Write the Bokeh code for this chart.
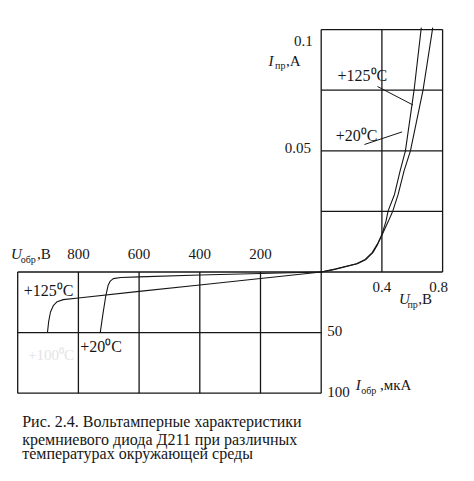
import numpy as np
from bokeh.plotting import figure
from bokeh.models import Range1d
from bokeh.core.properties import value
from bokeh.embed import file_html
from bokeh.resources import INLINE

# ---------------- data ----------------
# forward branch (U_пр in V, I_пр in A)
fwd_125_v = [0.0, 0.094, 0.232, 0.290, 0.336, 0.369, 0.401, 0.427, 0.441, 0.483, 0.520, 0.555, 0.612, 0.658, 0.660]
fwd_125_i = [0.0, 0.0012, 0.0034, 0.0052, 0.0080, 0.0114, 0.0156, 0.0210, 0.0252, 0.0320, 0.0417, 0.0500, 0.0750, 0.1000, 0.1008]
fwd_20_v = [0.0, 0.094, 0.238, 0.295, 0.340, 0.372, 0.403, 0.443, 0.472, 0.507, 0.546, 0.588, 0.671, 0.733, 0.735]
fwd_20_i = [0.0, 0.0012, 0.0034, 0.0052, 0.0080, 0.0114, 0.0156, 0.0210, 0.0252, 0.0320, 0.0417, 0.0500, 0.0750, 0.1000, 0.1008]
# reverse branch (U_обр in V, I_обр in µA)
rev_125_u = [0, 200, 400, 600, 800, 850, 870, 882, 892, 898, 902]
rev_125_i = [0, 5.3, 10.7, 16.0, 21.4, 22.8, 24.5, 27.5, 33.0, 41.0, 50.0]
rev_20_u = [0, 200, 400, 600, 660, 685, 695, 702, 710, 720, 728]
rev_20_i = [0, 1.2, 2.5, 4.0, 4.5, 5.5, 7.5, 11.0, 20.0, 36.0, 50.0]

# grid / ticks
fwd_v_grid = [0.0, 0.4, 0.8]
fwd_i_grid = [0.0, 0.025, 0.05, 0.075, 0.1]
rev_u_grid = [0, 200, 400, 600, 800, 1000]
rev_i_grid = [0, 50, 100]
fwd_v_ticks = [0.4, 0.8]
fwd_v_labels = ["0.4", "0.8"]
fwd_i_ticks = [0.1, 0.05]
fwd_i_labels = ["0.1", "0.05"]
rev_u_ticks = [800, 600, 400, 200]
rev_u_labels = ["800", "600", "400", "200"]
rev_i_ticks = [50, 100]
rev_i_labels = ["50", "100"]

caption = ["Рис. 2.4. Вольтамперные характеристики",
           "кремниевого диода Д211 при различных",
           "температурах окружающей среды"]

# scale of one grid cell for each quadrant
FV, FI, RU, RI = 0.4, 0.025, 200.0, 50.0
def fx(v): return np.asarray(v, dtype=float) / FV
def fy(i): return np.asarray(i, dtype=float) / FI
def rx(u): return -np.asarray(u, dtype=float) / RU
def ry(i): return -np.asarray(i, dtype=float) / RI

FONT = value("'Liberation Serif', 'Times New Roman', serif")
INK = "#161616"

W, H = 458, 465
PX, PY = 60.7, 60.6       # pixels per grid cell
OX, OY = 320.7, 271.5     # origin position in the page
p = figure(width=W, height=H, output_backend="svg", toolbar_location=None,
           x_range=Range1d(-OX / PX, (W - OX) / PX),
           y_range=Range1d((OY - H) / PY, OY / PY),
           x_axis_location=None, y_axis_location=None, min_border=0)
p.grid.visible = False
p.outline_line_color = None

# grid lines
x0s, y0s, x1s, y1s = [], [], [], []
for v in fwd_v_grid:
    x0s.append(fx(v)); y0s.append(fy(0)); x1s.append(fx(v)); y1s.append(fy(max(fwd_i_grid)))
for i in fwd_i_grid:
    x0s.append(fx(0)); y0s.append(fy(i)); x1s.append(fx(max(fwd_v_grid))); y1s.append(fy(i))
for u in rev_u_grid:
    x0s.append(rx(u)); y0s.append(ry(0)); x1s.append(rx(u)); y1s.append(ry(max(rev_i_grid)))
for i in rev_i_grid:
    x0s.append(rx(max(rev_u_grid))); y0s.append(ry(i)); x1s.append(rx(0)); y1s.append(ry(i))
p.segment(x0=x0s, y0=y0s, x1=x1s, y1=y1s, line_color=INK, line_width=1.3)

# curves
p.line(fx(fwd_125_v), fy(fwd_125_i), line_color=INK, line_width=1.1)
p.line(fx(fwd_20_v), fy(fwd_20_i), line_color=INK, line_width=1.1)
p.line(rx(rev_125_u), ry(rev_125_i), line_color=INK, line_width=1.1)
p.line(rx(rev_20_u), ry(rev_20_i), line_color=INK, line_width=1.1)

# leader lines for forward labels
p.segment(x0=[0.927, 0.713], y0=[3.061, 2.104], x1=[fx(0.605), fx(0.533)], y1=[fy(0.0689), fy(0.0578)],
          line_color=INK, line_width=1.0)

def txt(x, y, t, size="15px", align="left", style="normal", color=INK, xo=0):
    p.text(x=x, y=y, text=t, text_font=FONT, text_font_size=size, text_align=align,
           text_baseline="middle", text_font_style=style, text_color=color, x_offset=xo)

# tick labels
txt([-0.14], [fy(fwd_i_ticks[0]) - 0.18], [fwd_i_labels[0]], align="right")
txt([-0.17], [fy(fwd_i_ticks[1]) + 0.04], [fwd_i_labels[1]], align="right")
txt([fx(fwd_v_ticks[0])], [-0.24], [fwd_v_labels[0]], align="center")
txt([fx(fwd_v_ticks[1])], [-0.24], [fwd_v_labels[1]], align="center", xo=-4)
txt(list(rx(rev_u_ticks)), [0.29] * 4, rev_u_labels, align="center")
txt([0.10] * 2, [ry(t) + 0.02 for t in rev_i_ticks], rev_i_labels, align="left")

# axis titles
txt([-0.87], [3.49], ["I"], style="italic")
txt([-0.76], [3.40], ["пр"], size="10px")
txt([-0.58], [3.49], [",A"])
txt([-5.11], [0.29], ["U"], style="italic")
txt([-4.95], [0.21], ["обр"], size="10px")
txt([-4.68], [0.29], [",B"])
txt([1.28], [-0.45], ["U"], style="italic")
txt([1.42], [-0.53], ["пр"], size="10px")
txt([1.60], [-0.45], [",B"])
txt([0.57], [-1.86], ["I"], style="italic")
txt([0.66], [-1.95], ["обр"], size="10px")
txt([0.97], [-1.86], [",мкА"])

# curve labels
txt([0.27], [3.24], ["+125⁰C"], size="16px")
txt([0.24], [2.25], ["+20⁰C"], size="16px")
txt([-4.90], [-0.31], ["+125⁰C"], size="16px")
txt([-3.97], [-1.23], ["+20⁰C"], size="16px")
txt([-4.83], [-1.37], ["+100⁰C"], size="15px", color="#e4e4e4")

# caption
txt([-4.926] * 3, [-2.475, -2.756, -3.003], caption, size="16px")

open("out.html", "w").write(file_html(p, INLINE))
